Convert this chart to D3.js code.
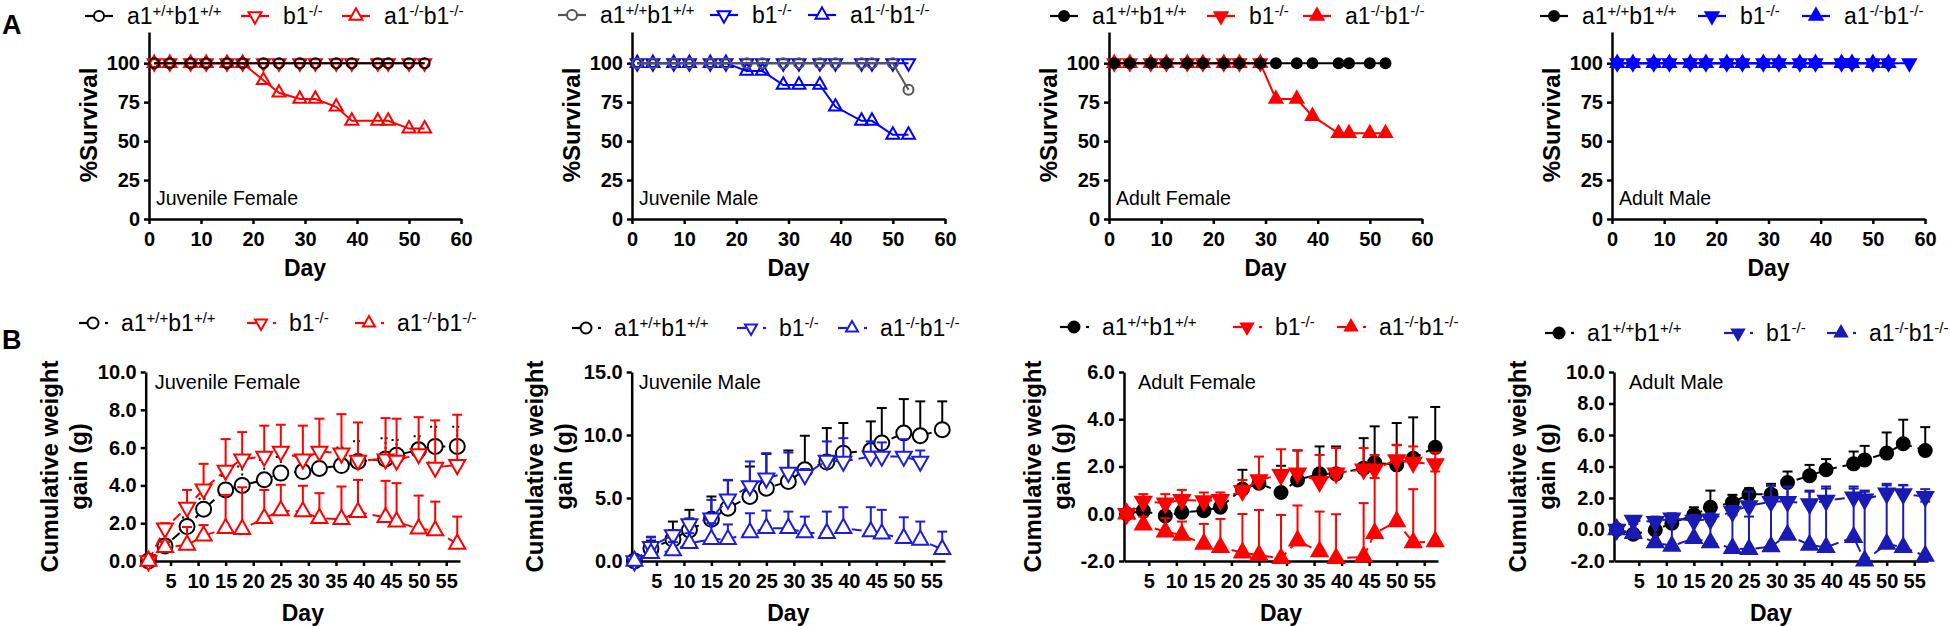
<!DOCTYPE html>
<html><head><meta charset="utf-8">
<script src="https://cdn.jsdelivr.net/npm/d3@7"></script>
<style>
body{margin:0;background:#fff;}
svg text{font-family:"Liberation Sans",Arial,Helvetica,sans-serif;}
</style></head><body>
<svg id="chart" width="1950" height="626"></svg>
<script>
// ---------------- DATA ----------------
const legendLabels = [["a1","+/+","b1","+/+"],["b1","-/-"],["a1","-/-","b1","-/-"]];
const panelTitles = ["Juvenile Female","Juvenile Male","Adult Female","Adult Male"];
const survXTicks = [0,10,20,30,40,50,60];
const survYTicks = [0,25,50,75,100];
const weightXTicks = [5,10,15,20,25,30,35,40,45,50,55];

// survival (row A)
const daysSurv = [1,4,8,11,15,18,22,25,29,32,36,39,44,46,50,53];
const daysSurv57 = [1,4,8,11,15,18,22,25,29,32,36,39,44,46,50,53,57];
const daysSurvAFb1 = [1,4,8,11,15,18,22,25,29];

const survJF_wt   = [100,100,100,100,100,100,100,100,100,100,100,100,100,100,100,100];
const survJF_b1   = [100,100,100,100,100,100,100,100,100,100,100,100,100,100,100,100];
const survJF_a1b1 = [100,100,100,100,100,100,89,81,77,77,72,63,63,63,58,58];

const survJM_wt   = [100,100,100,100,100,100,100,100,100,100,100,100,100,100,100,83];
const survJM_b1   = [100,100,100,100,100,100,100,100,100,100,100,100,100,100,100,100];
const survJM_a1b1 = [100,100,100,100,100,100,95,95,86,86,86,72,63,63,54,54];

const survAF_wt   = [100,100,100,100,100,100,100,100,100,100,100,100,100,100,100,100];
const survAF_b1   = [100,100,100,100,100,100,100,100,100];
const survAF_a1b1 = [100,100,100,100,100,100,100,100,100,77,77,66,55,55,55,55];

const survAM_wt   = [100,100,100,100,100,100,100,100,100,100,100,100,100,100,100,100];
const survAM_b1   = [100,100,100,100,100,100,100,100,100,100,100,100,100,100,100,100,100];
const survAM_a1b1 = [100,100,100,100,100,100,100,100,100,100,100,100,100,100,100,100];

// weight gain (row B): mean and upper error-bar end
const daysW = [1,4,8,11,15,18,22,25,29,32,36,39,44,46,50,53,57];
const daysW53 = [1,4,8,11,15,18,22,25,29,32,36,39,44,46,50,53];

const wJF_wt_mean   = [0,0.8,1.82,2.74,3.76,4.0,4.3,4.65,4.73,4.9,5.05,5.27,5.4,5.6,5.88,6.06,6.06];
const wJF_wt_err    = [0,1.1,2.3,3.3,4.5,5.0,5.35,5.5,5.6,5.8,6.0,6.33,6.5,6.4,6.6,7.1,7.1];
const wJF_b1_mean   = [0,1.73,2.84,3.8,4.79,5.39,5.53,5.8,5.39,5.8,5.7,5.32,5.39,5.32,5.67,4.95,5.09];
const wJF_b1_err    = [0,2.0,3.76,5.14,6.45,6.82,7.16,7.21,7.16,7.53,7.77,7.33,7.56,7.53,7.61,7.44,7.74];
const wJF_a1b1_mean = [0,0.72,0.85,1.33,1.73,1.68,2.26,2.67,2.61,2.26,2.21,2.58,2.31,2.08,1.7,1.61,0.9];
const wJF_a1b1_err  = [0,1.0,1.8,1.9,3.5,3.9,3.76,4.03,3.98,3.59,3.94,4.29,4.24,4.12,3.46,3.14,2.35];

const wJM_wt_mean   = [0,1.0,1.72,2.46,3.31,4.19,5.12,5.78,6.31,7.24,7.85,8.56,8.77,9.36,10.15,9.94,10.42];
const wJM_wt_err    = [0,1.62,3.13,4.06,5.12,6.4,7.5,8.5,8.77,9.94,10.55,10.95,11.08,12.14,12.85,12.67,12.67];
const wJM_b1_mean   = [0,1.14,2.07,2.94,3.39,4.9,5.96,6.57,7.02,6.84,7.98,7.9,8.3,8.3,8.3,7.9];
const wJM_b1_err    = [0,1.88,2.46,3.39,4.85,6.44,7.9,8.56,8.61,7.3,9.49,9.75,9.49,9.41,9.67,8.77];
const wJM_a1b1_mean = [0,0.61,0.82,1.4,1.72,1.72,2.25,2.6,2.6,2.25,2.2,2.6,2.33,2.15,1.8,1.67,0.93];
const wJM_a1b1_err  = [0,1.93,1.5,2.2,3.0,2.9,3.79,4.0,3.92,3.52,3.92,4.27,4.27,4.06,3.47,3.13,2.33];

const wAF_wt_mean   = [0,0.12,-0.09,0.06,0.13,0.28,1.05,1.29,0.9,1.43,1.69,1.69,1.93,2.17,2.07,2.35,2.81];
const wAF_wt_err    = [0,0.3,0.1,0.3,0.4,0.6,1.86,1.6,2.03,2.68,2.85,2.85,3.2,3.7,3.84,4.08,4.52];
const wAF_b1_mean   = [0,0.52,0.45,0.59,0.54,0.59,0.98,1.43,1.65,1.72,1.36,1.72,1.89,1.89,2.28,2.17,2.11];
const wAF_b1_err    = [0,0.83,0.83,1.01,0.9,0.9,1.43,2.42,2.73,2.68,2.49,2.78,2.78,2.49,2.92,2.85,2.59];
const wAF_a1b1_mean = [0,-0.47,-0.76,-0.9,-1.28,-1.42,-1.65,-1.75,-1.89,-1.14,-1.6,-1.89,-1.82,-0.83,-0.33,-1.22,-1.18];
const wAF_a1b1_err  = [0,-0.12,-0.19,-0.33,-0.43,-0.22,-0.01,0.16,-0.05,0.35,0.09,-0.02,0.45,1.51,2.9,1.04,1.79];

const wAM_wt_mean   = [0,-0.3,-0.03,0.4,0.93,1.41,1.71,2.24,2.24,2.98,3.41,3.79,4.17,4.42,4.85,5.44,5.02];
const wAM_wt_err    = [0,-0.1,0.15,0.82,1.41,2.47,2.2,2.62,2.9,3.68,4.1,4.47,4.95,5.31,6.16,6.97,6.5];
const wAM_b1_mean   = [0,0.57,0.5,0.71,0.57,0.65,1.14,1.5,1.77,1.77,1.63,1.84,2.05,1.92,2.3,2.26,2.09];
const wAM_b1_err    = [0,0.78,0.82,1.03,0.93,1.03,1.5,2.41,2.77,2.73,2.47,2.73,2.73,2.47,2.9,2.83,2.56];
const wAM_a1b1_mean = [0,-0.24,-0.83,-1.05,-0.56,-0.83,-1.19,-1.26,-1.09,-0.35,-0.98,-1.13,-0.49,-1.98,-0.92,-1.13,-1.68];
const wAM_a1b1_err  = [0,0.35,0.29,0.44,0.82,0.5,0.9,0.82,1.6,2.7,2.4,2.6,2.6,2.4,2.8,2.8,1.77];

// ---------------- DRAWING ----------------
const svg = d3.select("#chart");
const RED = "#ff0000", BLUE = "#0000ff", BLUE2 = "#1e1ed8", BLUE3 = "#1a1ab4", GRAY = "#555555", BLACK = "#000000";

function triPath(w, up){
  const h = w*0.88;
  if(up) return `M0,${-2*h/3}L${w/2},${h/3}L${-w/2},${h/3}Z`;
  return `M0,${2*h/3}L${w/2},${-h/3}L${-w/2},${-h/3}Z`;
}
function marker(g, shape, cx, cy, size, color, filled, openFill){
  let m;
  if(shape === "circle"){
    m = g.append("circle").attr("cx",cx).attr("cy",cy).attr("r",size);
  } else {
    m = g.append("path").attr("d", triPath(size, shape==="up")).attr("transform",`translate(${cx},${cy})`);
  }
  m.attr("fill", filled ? color : openFill).attr("stroke", color).attr("stroke-width", 2);
  return m;
}
function styleAxis(g){
  g.select(".domain").attr("stroke","#000").attr("stroke-width",2.5);
  g.selectAll(".tick line").attr("stroke","#000").attr("stroke-width",2.5);
  g.selectAll(".tick text").attr("font-size","20px").attr("font-weight","bold").attr("fill","#000")
   .attr("font-family",'"Liberation Sans",Arial,sans-serif');
}
function legend(items, y, base, markerScale, dashed){
  items.forEach(it => {
    const g = svg.append("g");
    const x0 = it.x, x1 = it.x + 28, cx = it.x + 14;
    if(dashed){
      g.append("line").attr("x1",x0).attr("x2",x0+9).attr("y1",y).attr("y2",y).attr("stroke",it.color).attr("stroke-width",2.2);
      g.append("line").attr("x1",x1-2).attr("x2",x1+1).attr("y1",y).attr("y2",y).attr("stroke",it.color).attr("stroke-width",2.2);
    } else {
      g.append("line").attr("x1",x0).attr("x2",x1).attr("y1",y).attr("y2",y).attr("stroke",it.color).attr("stroke-width",2.2);
    }
    marker(g, it.shape, cx, y, it.shape==="circle" ? markerScale.r : markerScale.w, it.color, it.filled, "#fff");
    const t = svg.append("text").attr("x", it.x + 42).attr("y", base).attr("font-size","23px").attr("fill","#000");
    const parts = it.label;
    for(let i=0;i<parts.length;i++){
      if(i%2===0) t.append("tspan").text(parts[i]).attr("font-size","23px").attr("dy", i===0 ? 0 : 8);
      else t.append("tspan").text(parts[i]).attr("font-size","15px").attr("dy", -8);
    }
  });
}

// ---- Row A: survival ----
const survPanels = [
  {left:149, right:461, title:panelTitles[0], legY:16, legBase:24, legX:[85,241,342],
   series:[
     {name:1, days:daysSurv, vals:survJF_b1, color:RED, shape:"down", filled:false},
     {name:2, days:daysSurv, vals:survJF_a1b1, color:RED, shape:"up", filled:false},
     {name:0, days:daysSurv, vals:survJF_wt, color:BLACK, shape:"circle", filled:false}]},
  {left:632, right:945, title:panelTitles[1], legY:15, legBase:23, legX:[558,710,808],
   series:[
     {name:1, days:daysSurv, vals:survJM_b1, color:BLUE, shape:"down", filled:false},
     {name:2, days:daysSurv, vals:survJM_a1b1, color:BLUE, shape:"up", filled:false},
     {name:0, days:daysSurv, vals:survJM_wt, color:GRAY, shape:"circle", filled:false}]},
  {left:1109, right:1422, title:panelTitles[2], legY:16, legBase:24, legX:[1050,1207,1303],
   series:[
     {name:1, days:daysSurvAFb1, vals:survAF_b1, color:RED, shape:"down", filled:true},
     {name:2, days:daysSurv, vals:survAF_a1b1, color:RED, shape:"up", filled:true},
     {name:0, days:daysSurv, vals:survAF_wt, color:BLACK, shape:"circle", filled:true}]},
  {left:1612, right:1925, title:panelTitles[3], legY:16, legBase:24, legX:[1540,1698,1802],
   series:[
     {name:0, days:daysSurv, vals:survAM_wt, color:BLACK, shape:"circle", filled:true},
     {name:1, days:daysSurv57, vals:survAM_b1, color:BLUE, shape:"down", filled:true},
     {name:2, days:daysSurv, vals:survAM_a1b1, color:BLUE, shape:"up", filled:true}]}
];

survPanels.forEach(p => {
  const x = d3.scaleLinear().domain([0,60]).range([p.left,p.right]);
  const y = d3.scaleLinear().domain([0,120]).range([219,32]);
  const gx = svg.append("g").attr("transform","translate(0,219)")
    .call(d3.axisBottom(x).tickValues(survXTicks).tickSize(5).tickSizeOuter(0).tickPadding(8).tickFormat(d=>String(d)));
  styleAxis(gx);
  const gy = svg.append("g").attr("transform",`translate(${p.left},0)`)
    .call(d3.axisLeft(y).tickValues(survYTicks).tickSize(5).tickSizeOuter(0).tickPadding(4).tickFormat(d=>String(d)));
  styleAxis(gy);
  svg.append("text").attr("x",(p.left+p.right)/2).attr("y",276).attr("text-anchor","middle")
    .attr("font-size","23px").attr("font-weight","bold").text("Day");
  svg.append("text").attr("transform",`translate(${p.left-52},${125}) rotate(-90)`).attr("text-anchor","middle")
    .attr("font-size","24px").attr("font-weight","bold").text("%Survival");
  svg.append("text").attr("x",p.left+7).attr("y",205).attr("font-size","19.5px").text(p.title);

  const line = d3.line().x(d=>x(d[0])).y(d=>y(d[1]));
  p.series.forEach(s => {
    const pts = s.days.map((d,i)=>[d, s.vals[i]]);
    const g = svg.append("g");
    g.append("path").attr("d", line(pts)).attr("fill","none").attr("stroke",s.color).attr("stroke-width",2);
    pts.forEach(pt => marker(g, s.shape, x(pt[0]), y(pt[1]), s.shape==="circle"?5:13, s.color, s.filled, "none"));
  });
  const legItems = [0,1,2].map(k => {
    const s = p.series.find(ss=>ss.name===k);
    return {x:p.legX[k], color:s.color, shape:s.shape, filled:s.filled, label:legendLabels[k]};
  });
  legend(legItems, p.legY, p.legBase, {r:5, w:13}, false);
});

// ---- Row B: weight gain ----
const weightPanels = [
  {left:145.7, right:460, dom:[0,10], ticks:[0,2,4,6,8,10], title:panelTitles[0], tOff:9, lab1:-88, lab2:-59,
   legY:323, legBase:331, legX:[79,247,355],
   series:[
     {name:0, days:daysW, mean:wJF_wt_mean, err:wJF_wt_err, color:BLACK, shape:"circle", filled:false, errDash:"2,3"},
     {name:1, days:daysW, mean:wJF_b1_mean, err:wJF_b1_err, color:RED, shape:"down", filled:false},
     {name:2, days:daysW, mean:wJF_a1b1_mean, err:wJF_a1b1_err, color:RED, shape:"up", filled:false}]},
  {left:631.7, right:945, dom:[0,15], ticks:[0,5,10,15], title:panelTitles[1], tOff:7, lab1:-89, lab2:-60,
   legY:328, legBase:336, legX:[572,737,838],
   series:[
     {name:0, days:daysW, mean:wJM_wt_mean, err:wJM_wt_err, color:BLACK, shape:"circle", filled:false},
     {name:1, days:daysW53, mean:wJM_b1_mean, err:wJM_b1_err, color:BLUE2, shape:"down", filled:false},
     {name:2, days:daysW, mean:wJM_a1b1_mean, err:wJM_a1b1_err, color:BLUE2, shape:"up", filled:false}]},
  {left:1124, right:1438, dom:[-2,6], ticks:[-2,0,2,4,6], title:panelTitles[2], tOff:14, lab1:-83, lab2:-54,
   legY:327, legBase:335, legX:[1060,1233,1337],
   series:[
     {name:0, days:daysW, mean:wAF_wt_mean, err:wAF_wt_err, color:BLACK, shape:"circle", filled:true},
     {name:1, days:daysW, mean:wAF_b1_mean, err:wAF_b1_err, color:RED, shape:"down", filled:true},
     {name:2, days:daysW, mean:wAF_a1b1_mean, err:wAF_a1b1_err, color:RED, shape:"up", filled:true}]},
  {left:1614, right:1928, dom:[-2,10], ticks:[-2,0,2,4,6,8,10], title:panelTitles[3], tOff:15, lab1:-88, lab2:-59,
   legY:333, legBase:341, legX:[1545,1724,1827],
   series:[
     {name:0, days:daysW, mean:wAM_wt_mean, err:wAM_wt_err, color:BLACK, shape:"circle", filled:true},
     {name:1, days:daysW, mean:wAM_b1_mean, err:wAM_b1_err, color:BLUE3, shape:"down", filled:true},
     {name:2, days:daysW, mean:wAM_a1b1_mean, err:wAM_a1b1_err, color:BLUE3, shape:"up", filled:true}]}
];

weightPanels.forEach(p => {
  const x = d3.scaleLinear().domain([0.5,57.5]).range([p.left,p.right]);
  const y = d3.scaleLinear().domain(p.dom).range([561,372]);
  const gx = svg.append("g").attr("transform","translate(0,561)")
    .call(d3.axisBottom(x).tickValues(weightXTicks).tickSize(5).tickSizeOuter(0).tickPadding(8).tickFormat(d=>String(d)));
  styleAxis(gx);
  const gy = svg.append("g").attr("transform",`translate(${p.left},0)`)
    .call(d3.axisLeft(y).tickValues(p.ticks).tickSize(5).tickSizeOuter(0).tickPadding(4).tickFormat(d=>d.toFixed(1)));
  styleAxis(gy);
  svg.append("text").attr("x",(p.left+p.right)/2).attr("y",621).attr("text-anchor","middle")
    .attr("font-size","23px").attr("font-weight","bold").text("Day");
  svg.append("text").attr("transform",`translate(${p.left+p.lab1},466.5) rotate(-90)`).attr("text-anchor","middle")
    .attr("font-size","24px").attr("font-weight","bold").text("Cumulative weight");
  svg.append("text").attr("transform",`translate(${p.left+p.lab2},466.5) rotate(-90)`).attr("text-anchor","middle")
    .attr("font-size","24px").attr("font-weight","bold").text("gain (g)");
  svg.append("text").attr("x",p.left+p.tOff).attr("y",389).attr("font-size","20px").text(p.title);

  const line = d3.line().x(d=>x(d[0])).y(d=>y(d[1]));
  p.series.forEach(s => {
    const pts = s.days.map((d,i)=>[d, s.mean[i], s.err[i]]);
    const g = svg.append("g");
    pts.forEach(pt => {
      if(Math.abs(pt[2]-pt[1]) < 0.01) return;
      const xe = x(pt[0]);
      g.append("line").attr("x1",xe).attr("x2",xe).attr("y1",y(pt[1])).attr("y2",y(pt[2]))
        .attr("stroke",s.color).attr("stroke-width",2).attr("stroke-dasharray", s.errDash || null);
      g.append("line").attr("x1",xe-5).attr("x2",xe+5).attr("y1",y(pt[2])).attr("y2",y(pt[2]))
        .attr("stroke",s.color).attr("stroke-width",2).attr("stroke-dasharray", s.errDash || null);
    });
    g.append("path").attr("d", line(pts)).attr("fill","none").attr("stroke",s.color).attr("stroke-width",2)
      .attr("stroke-dasharray","10,6");
    pts.forEach(pt => marker(g, s.shape, x(pt[0]), y(pt[1]),
      s.shape==="circle" ? (s.filled?6.5:7.5) : 16, s.color, s.filled, "#fff"));
  });
  const legItems = [0,1,2].map(k => {
    const s = p.series.find(ss=>ss.name===k);
    return {x:p.legX[k], color:s.color, shape:s.shape, filled:s.filled, label:legendLabels[k]};
  });
  legend(legItems, p.legY, p.legBase, {r:5.5, w:12}, true);
});

// panel letters
svg.append("text").attr("x",2).attr("y",34).attr("font-size","27px").attr("font-weight","bold").text("A");
svg.append("text").attr("x",2).attr("y",349).attr("font-size","27px").attr("font-weight","bold").text("B");
</script>
</body></html>
